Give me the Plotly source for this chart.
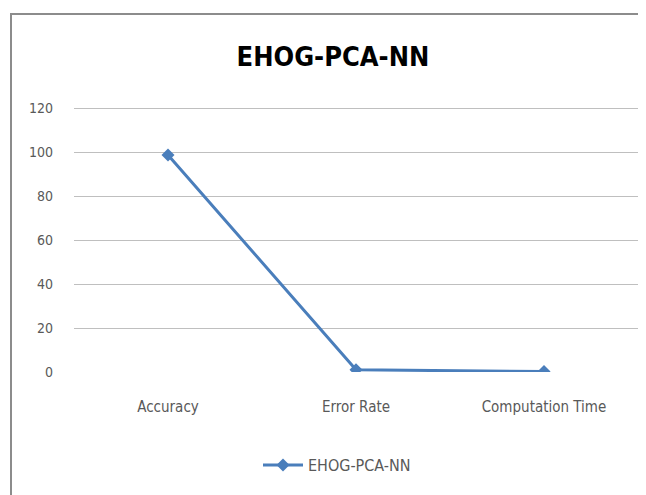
import plotly.graph_objects as go

categories = ["Accuracy", "Error Rate", "Computation Time"]
values = [98.8, 1.0, 0.2]
series_name = "EHOG-PCA-NN"
y_ticks = [0, 20, 40, 60, 80, 100, 120]

# page body has an 8px margin; figure sized to fit the 646x495 window
OFF = 8
W, H = 646 - OFF, 495 - OFF
L, R, T, B = 66, 8, 96, 123
pw, ph = W - L - R, H - T - B

def px(x):  # reference-pixel x -> paper coords
    return (x - OFF - L) / pw

def py(y):  # reference-pixel y -> paper coords
    return (H - B - (y - OFF)) / ph

FONT = "Liberation Sans Narrow, DejaVu Sans Condensed, Arial Narrow, sans-serif"

fig = go.Figure()
fig.add_trace(go.Scatter(
    x=categories, y=values, mode="lines+markers", name=series_name,
    line=dict(color="#4A7EBB", width=3),
    marker=dict(symbol="diamond", size=10, color="#4A7EBB"),
))

fig.update_layout(
    width=W, height=H,
    margin=dict(l=L, r=R, t=T, b=B, autoexpand=False),
    paper_bgcolor="white", plot_bgcolor="white",
    font=dict(family=FONT, size=14, color="#595959"),
    title=dict(text="<b>EHOG-PCA-NN</b>", x=px(333), xanchor="center", xref="paper",
               y=1 - (56.5 - OFF) / H, yanchor="middle",
               font=dict(family=FONT, size=27, color="#000000")),
    xaxis=dict(showgrid=False, showline=False, ticks="", ticklabelstandoff=24,
               zeroline=False, range=[-0.5, 2.5], automargin=False,
               tickfont=dict(size=15)),
    yaxis=dict(range=[0, 122], tickvals=y_ticks, showgrid=True, gridcolor="#bfbfbf",
               gridwidth=1, zeroline=False, showline=False, ticks="", ticklabelstandoff=20,
               automargin=False, tickfont=dict(size=14)),
    showlegend=True,
    legend=dict(orientation="h", x=px(337), xanchor="center", y=py(465), yanchor="middle",
                font=dict(size=16, color="#595959"), itemwidth=40),
    shapes=[dict(type="rect", xref="paper", yref="paper",
                 x0=px(11), x1=px(660), y0=py(14), y1=py(510),
                 line=dict(color="#8c8c8c", width=2), layer="below")],
)

fig.write_html("out.html")
